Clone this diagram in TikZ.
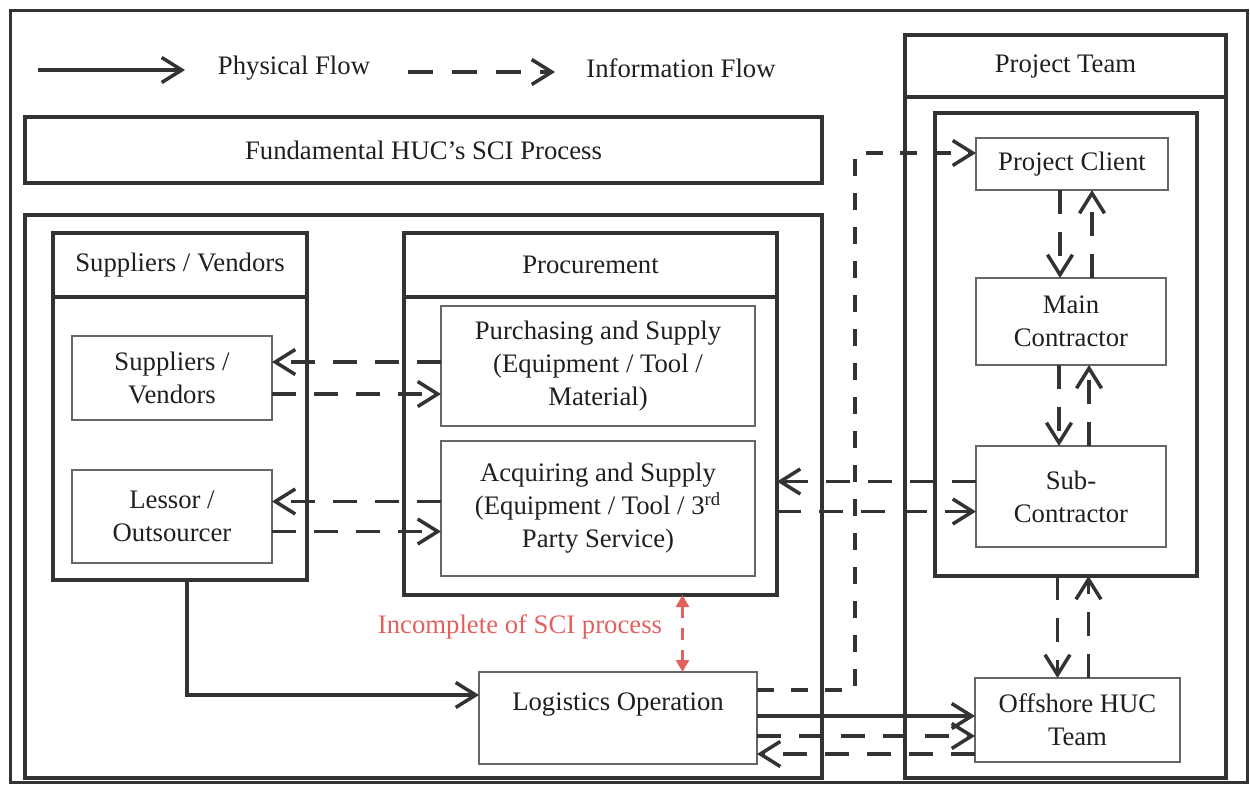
\documentclass[tikz,border=0pt]{standalone}
\usepackage{fontspec}
\setmainfont{Liberation Serif}
\usepackage{tikz}
\usetikzlibrary{arrows.meta,calc,positioning}
\definecolor{linegray}{HTML}{333333}
\definecolor{warnred}{HTML}{E4605E}
\tikzset{>={Straight Barb[length=4mm,width=5mm]}}
\tikzset{
  txt/.style={font=\fontsize{15.2pt}{18.8pt}\selectfont, align=center, text=black!88},
  heavybox/.style={draw=linegray, line width=0.8mm, inner sep=0pt, outer sep=0pt, anchor=north west, txt},
  lightbox/.style={draw=linegray!75, line width=0.3mm, inner sep=0pt, outer sep=0pt, anchor=north west, txt},
  sized/.style 2 args={minimum width=#1*0.2mm, minimum height=#2*0.2mm},
  phys/.style={draw=linegray, line width=0.7mm, ->},
  info/.style={draw=linegray, line width=0.7mm, ->, dash pattern=on 4.8mm off 3.6mm},
  warnarrow/.style={draw=warnred, line width=0.5mm, dash pattern=on 2.4mm off 2mm,
    {Triangle[length=2.4mm,width=2.6mm]}-{Triangle[length=2.4mm,width=2.6mm]}},
}

\begin{document}
\begin{tikzpicture}[x=0.2mm,y=-0.2mm]
  \useasboundingbox (0,0) rectangle (1250,786);
  \draw[linegray, line width=0.6mm] (10,10) rectangle (1247,782);

  % legend
  \coordinate (physA) at (38,70);
  \coordinate (physB) at (185,70);
  \coordinate (infoA) at (408,72);
  \coordinate (infoB) at (555,72);
  \node[txt] (physlbl) at (294,68) {Physical Flow};
  \node[txt] (infolbl) at (681,68) {Information Flow};
  \draw[phys] (physA) -- (physB);
  \draw[info, dash pattern=on 5mm off 3.8mm] (infoA) -- (infoB);

  % HUC side
  \node[heavybox, sized={797}{66}] (fund) at (25,117) {Fundamental HUC's SCI Process};
  \node[heavybox, sized={797}{563}] (huc) at (25,215) {};

  \node[heavybox, sized={254}{64}] (suphead) at (53,233) {Suppliers / Vendors};
  \node[heavybox, sized={254}{283}] (supbody) at (53,297) {};
  \node[lightbox, sized={200}{84}] (supv) at (72,336) {Suppliers /\\Vendors};
  \node[lightbox, sized={200}{93}] (lessor) at (72,470) {Lessor /\\Outsourcer};

  \node[heavybox, sized={373}{64}] (prochead) at (404,233) {Procurement};
  \node[heavybox, sized={373}{298}] (procbody) at (404,297) {};
  \node[lightbox, sized={314}{120}] (purch) at (441,306)
    {Purchasing and Supply\\(Equipment / Tool /\\Material)};
  \node[lightbox, sized={314}{135}] (acq) at (441,441)
    {Acquiring and Supply\\(Equipment / Tool / 3\textsuperscript{rd}\\Party Service)};
  \node[lightbox, sized={278}{92}] (logi) at (479,672) {Logistics Operation\\\mbox{}};

  \node[txt, text=warnred] (gap) at (520,627) {Incomplete of SCI process};

  % project team side
  \node[heavybox, sized={321}{62}] (teamhead) at (905,35) {Project Team};
  \node[heavybox, sized={321}{681}] (teambody) at (905,97) {};
  \node[heavybox, sized={262}{463}] (inner) at (935,113) {};
  \node[lightbox, sized={192}{52}] (client) at (976,138) {Project Client};
  \node[lightbox, sized={190}{87}] (mainc) at (976,278) {Main\\Contractor};
  \node[lightbox, sized={190}{101}] (subc) at (976,446) {Sub-\\Contractor};
  \node[lightbox, sized={205}{84}] (offshore) at (975,678) {Offshore HUC\\Team};

  % suppliers <-> procurement
  \draw[info] ($(purch.west |- supv.east)+(0,-16)$) -- ($(supv.east)+(0,-16)$);
  \draw[info] ($(supv.east)+(0,16)$) -- ($(purch.west |- supv.east)+(0,16)$);
  \draw[info] ($(acq.west |- lessor.east)+(0,-15)$) -- ($(lessor.east)+(0,-15)$);
  \draw[info] ($(lessor.east)+(0,15)$) -- ($(acq.west |- lessor.east)+(0,15)$);

  % sub-contractor <-> procurement
  \draw[info] ($(subc.west)+(0,-15)$) -- ($(procbody.east |- subc.west)+(0,-15)$);
  \draw[info] ($(procbody.east |- subc.west)+(0,15)$) -- ($(subc.west)+(0,15)$);

  % logistics -> project client
  \draw[info, dash pattern=on 3.4mm off 3.4mm] ($(logi.east)+(0,-28)$) -| ($(client.west)+(-121,-11)$) -- ($(client.west)+(0,-11)$);

  % within the project team
  \draw[info] ($(client.south)+(-12,0)$) -- ($(client.south |- mainc.north)+(-12,0)$);
  \draw[info] ($(client.south |- mainc.north)+(20,0)$) -- ($(client.south)+(20,0)$);
  \draw[info] ($(mainc.south)+(-12,0)$) -- ($(mainc.south |- subc.north)+(-12,0)$);
  \draw[info] ($(mainc.south |- subc.north)+(18,0)$) -- ($(mainc.south)+(18,0)$);
  \draw[info] ($(offshore.north |- inner.south)+(-20,0)$) -- ($(offshore.north)+(-20,0)$);
  \draw[info] ($(offshore.north)+(11,0)$) -- ($(offshore.north |- inner.south)+(11,0)$);

  % logistics <-> offshore team
  \draw[phys] ($(logi.east)+(0,-2)$) -- ($(offshore.west |- logi.east)+(0,-2)$);
  \draw[info] ($(logi.east)+(0,18)$) -- ($(offshore.west |- logi.east)+(0,18)$);
  \draw[info] ($(offshore.west |- logi.east)+(0,36)$) -- ($(logi.east)+(0,36)$);

  % suppliers -> logistics
  \draw[phys] ($(supbody.south)+(7,0)$) |- ($(logi.west)+(0,-23)$);

  % gap between procurement and logistics
  \draw[warnarrow] ($(procbody.south)+(92,0)$) -- ($(procbody.south |- logi.north)+(92,0)$);
\end{tikzpicture}
\end{document}
